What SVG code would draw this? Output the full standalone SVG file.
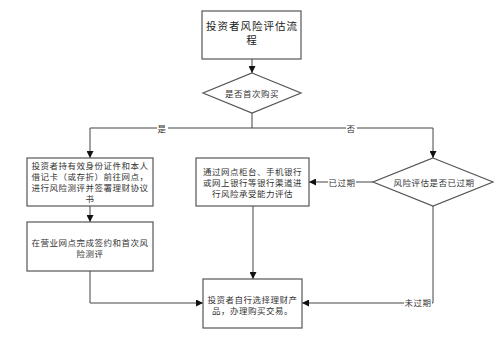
<svg xmlns="http://www.w3.org/2000/svg" width="500" height="338" viewBox="0 0 500 338">
<defs>
<marker id="ah" viewBox="0 0 10 10" refX="10" refY="5" markerWidth="7" markerHeight="7" markerUnits="userSpaceOnUse" orient="auto">
<path d="M0,0 L10,5 L0,10 z" fill="#111"/>
</marker>
<style>
.box{fill:#fff;stroke:#555;stroke-width:1.2}
.t{font-family:"Noto Sans CJK SC","Liberation Sans",sans-serif;font-size:8.5px;fill:#333;text-anchor:middle;dominant-baseline:central;letter-spacing:0.5px}
.tt{font-family:"Noto Sans CJK SC","Liberation Sans",sans-serif;font-size:10.5px;fill:#222;text-anchor:middle;dominant-baseline:central;letter-spacing:1px}
.ln{fill:none;stroke:#444;stroke-width:1}
.lbl{fill:#fff}
</style>
</defs>
<rect width="500" height="338" fill="#fff"/>
<g id="connectors">
<path class="ln" d="M252,59 V73" marker-end="url(#ah)"/>
<path class="ln" d="M252,113 V128"/>
<path class="ln" d="M90,128 H433"/>
<path class="ln" d="M90,128 V158" marker-end="url(#ah)"/>
<path class="ln" d="M433,128 V158" marker-end="url(#ah)"/>
<path class="ln" d="M90,206 V222" marker-end="url(#ah)"/>
<path class="ln" d="M90,271 V303 H203" marker-end="url(#ah)"/>
<path class="ln" d="M253,206 V279" marker-end="url(#ah)"/>
<path class="ln" d="M373,182 H309" marker-end="url(#ah)"/>
<path class="ln" d="M433,206 V303 H302" marker-end="url(#ah)"/>
<rect class="lbl" x="157" y="122" width="11" height="12"/>
<text class="t" x="162" y="128">是</text>
<rect class="lbl" x="346" y="122" width="11" height="12"/>
<text class="t" x="351" y="128">否</text>
<rect class="lbl" x="328" y="176" width="28" height="12"/>
<text class="t" x="342" y="182">已过期</text>
<rect class="lbl" x="404" y="297" width="28" height="12"/>
<text class="t" x="418" y="302">未过期</text>
</g>
<g id="title">
<rect class="box" x="202" y="11" width="99" height="48"/>
<text class="tt" x="252" y="25">投资者风险评估流</text>
<text class="tt" x="252" y="39">程</text>
</g>
<g id="d1">
<path class="box" d="M252,73 L301,93 L252,113 L203,93 Z"/>
<text class="t" x="252" y="93">是否首次购买</text>
</g>
<g id="b1">
<rect class="box" x="27" y="158" width="126" height="48"/>
<text class="t" x="90" y="165">投资者持有效身份证件和本人</text>
<text class="t" x="90" y="176">借记卡（或存折）前往网点，</text>
<text class="t" x="90" y="187">进行风险测评并签署理财协议</text>
<text class="t" x="90" y="198">书</text>
</g>
<g id="b2">
<rect class="box" x="27" y="222" width="126" height="49"/>
<text class="t" x="90" y="241.7">在营业网点完成签约和首次风</text>
<text class="t" x="90" y="253.3">险测评</text>
</g>
<g id="b3">
<rect class="box" x="196" y="158" width="113" height="48"/>
<text class="t" x="252.5" y="171">通过网点柜台、手机银行</text>
<text class="t" x="252.5" y="182">或网上银行等银行渠道进</text>
<text class="t" x="252.5" y="193">行风险承受能力评估</text>
</g>
<g id="d2">
<path class="box" d="M433,158 L493,182 L433,206 L373,182 Z"/>
<text class="t" x="434" y="182">风险评估是否已过期</text>
</g>
<g id="b4">
<rect class="box" x="203" y="279" width="99" height="49"/>
<text class="t" x="252.5" y="298.7">投资者自行选择理财产</text>
<text class="t" x="252.5" y="310">品，办理购买交易。</text>
</g>
</svg>
